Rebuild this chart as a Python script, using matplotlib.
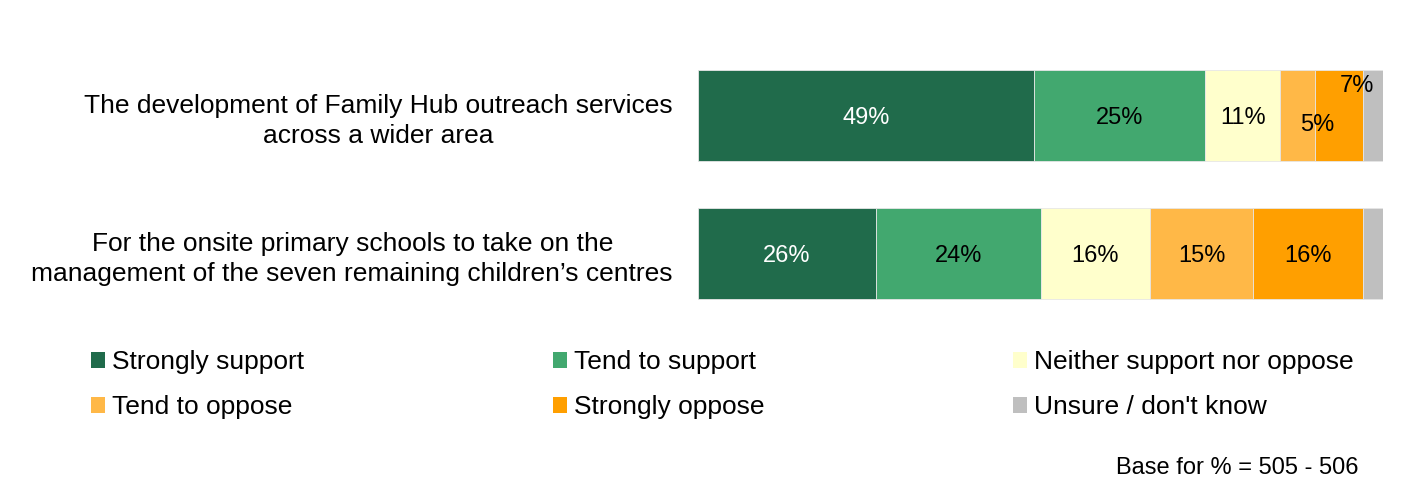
import matplotlib.pyplot as plt
from matplotlib.patches import Patch

plt.rcParams['font.family'] = ['Liberation Sans', 'DejaVu Sans']

# data
proposals = ['The development of Family Hub outreach services\nacross a wider area',
             'For the onsite primary schools to take on the\nmanagement of the seven remaining children\u2019s centres']
responses = ['Strongly support', 'Tend to support', 'Neither support nor oppose',
             'Tend to oppose', 'Strongly oppose', "Unsure / don't know"]
strongly_support = [49, 26]
tend_support = [25, 24]
neither = [11, 16]
tend_oppose = [5, 15]
strongly_oppose = [7, 16]
unsure = [3, 3]

colors = ['#206B4B', '#42A86F', '#FFFFCC', '#FFB847', '#FF9F00', '#BFBFBF']
txt_colors = ['white', 'black', 'black', 'black', 'black', None]

series = [strongly_support, tend_support, neither, tend_oppose, strongly_oppose, unsure]

fig = plt.figure(figsize=(14.1, 5.01), dpi=100)
ax = fig.add_axes([0.495, 0.3563, 0.486, 0.5509])

ypos = range(len(proposals))
left = [0, 0]
for i, vals in enumerate(series):
    ax.barh(ypos, vals, left=left, height=0.66, color=colors[i],
            edgecolor='#E6E6E6', linewidth=0.6, label=responses[i])
    if txt_colors[i] is not None:
        for j, v in enumerate(vals):
            dx, dy = 0, -2
            # the small segments in the first row have labels nudged
            if j == 0 and i == 3:
                dx, dy = 14, -7
            if j == 0 and i == 4:
                dx, dy = 13, 21
            ax.annotate(f'{v}%', (left[j] + v / 2, j), xytext=(dx, dy),
                        textcoords='offset points', ha='center', va='center',
                        fontsize=17, color=txt_colors[i])
    left = [l + v for l, v in zip(left, vals)]

ax.set_xlim(0, 100)
ax.set_ylim(1.5, -0.5)
ax.set_yticks(list(ypos))
ax.set_yticklabels(proposals, fontsize=19, multialignment='center', linespacing=1.32)
ax.tick_params(axis='y', length=0, pad=18)
ax.set_xticks([])
for s in ax.spines.values():
    s.set_visible(False)

# legend filled row by row
order = [0, 3, 1, 4, 2, 5]
handles = [Patch(facecolor=colors[k], edgecolor='none', label=responses[k]) for k in order]
fig.legend(handles=handles, ncol=3, loc='upper left', bbox_to_anchor=(0.0645, 0.301),
           frameon=False, fontsize=19, handlelength=0.53, handleheight=0.53,
           handletextpad=0.25, columnspacing=9.45, labelspacing=0.8,
           borderpad=0, borderaxespad=0)

fig.text(1358 / 1410, 1 - 468 / 501, 'Base for % = 505 - 506', ha='right', va='center', fontsize=17)

fig.savefig('out.png', dpi=100)
